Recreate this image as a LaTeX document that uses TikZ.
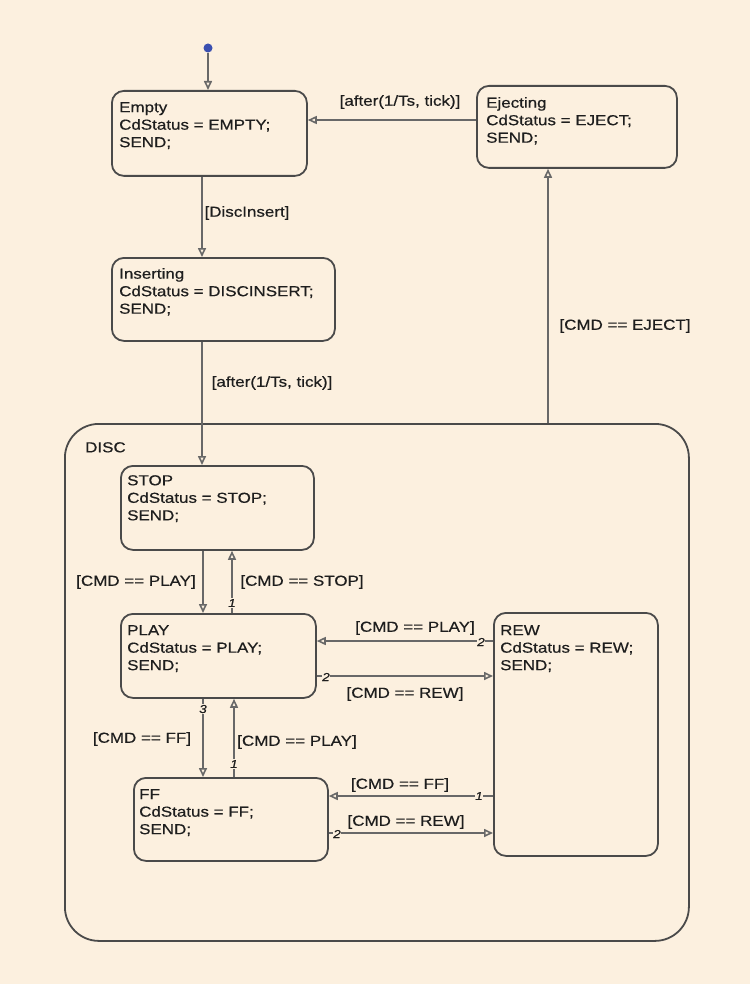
\documentclass[tikz,border=0pt]{standalone}
\usepackage{fontspec}
\setmainfont[FakeStretch=1.17,FakeBold=0.5]{Liberation Sans}
\usetikzlibrary{arrows.meta}
\definecolor{bg}{HTML}{FCF0DF}
\definecolor{ln}{HTML}{4A4A4A}
\definecolor{tr}{HTML}{686868}
\definecolor{tx}{HTML}{1E1E1E}
\definecolor{dotblue}{HTML}{3A4FB0}
\begin{document}
\begin{tikzpicture}[x=1pt,y=-1pt,
  statebox/.style={draw=ln, line width=1.8pt, rounded corners=12pt, anchor=north west, inner sep=0pt},
  txt/.style={anchor=north west, inner sep=0pt, align=left, font=\fontsize{14.5}{17.5}\selectfont, text=tx},
  lbl/.style={font=\fontsize{14.5}{17}\selectfont, text=tx, inner sep=1pt},
  pri/.style={font=\fontsize{11.5}{11.5}\selectfont\itshape, text=tx, fill=bg, inner sep=0.6pt},
  trans/.style={draw=tr, line width=1.6pt, -{Triangle[open, length=9pt, width=8pt]}}]
\fill[bg] (0,0) rectangle (750,984);
\useasboundingbox (0,0) rectangle (750,984);

% DISC superstate
\node[draw=ln, line width=1.8pt, rounded corners=34pt, anchor=north west, inner sep=0pt,
  minimum width=624pt, minimum height=517pt] (disc) at (64,423) {};
\node[txt] (disclbl) at (85,442) {DISC};

% states
\node[statebox, minimum width=195pt, minimum height=85pt] (empty) at (111,90) {};
\node[txt] (emptyt) at (119,102) {Empty\\CdStatus = EMPTY;\\SEND;};

\node[statebox, minimum width=200pt, minimum height=82pt] (eject) at (476,85) {};
\node[txt] (ejectt) at (486,97) {Ejecting\\CdStatus = EJECT;\\SEND;};

\node[statebox, minimum width=223pt, minimum height=83pt] (ins) at (111,257) {};
\node[txt] (inst) at (119,268) {Inserting\\CdStatus = DISCINSERT;\\SEND;};

\node[statebox, minimum width=193pt, minimum height=84pt] (stop) at (120,465) {};
\node[txt] (stopt) at (127,475) {STOP\\CdStatus = STOP;\\SEND;};

\node[statebox, minimum width=195pt, minimum height=84pt] (play) at (120,613) {};
\node[txt] (playt) at (127,625) {PLAY\\CdStatus = PLAY;\\SEND;};

\node[statebox, minimum width=164pt, minimum height=243pt] (rew) at (493,612) {};
\node[txt] (rewt) at (500,625) {REW\\CdStatus = REW;\\SEND;};

\node[statebox, minimum width=194pt, minimum height=83pt] (ff) at (133,777) {};
\node[txt] (fft) at (139,789) {FF\\CdStatus = FF;\\SEND;};

% initial transition
\node[circle, fill=dotblue, inner sep=0pt, minimum size=9pt] (init) at (208,48) {};
\draw[trans] (init) -- (init |- empty.north);

% transitions
\draw[trans] ([yshift=-35pt]eject.north west) -- ([yshift=-30pt]empty.north east);
\draw[trans] ([xshift=91pt]empty.south west) -- ([xshift=91pt]ins.north west);
\draw[trans] ([xshift=91pt]ins.south west) -- ([xshift=82pt]stop.north west);
\draw[trans] ([xshift=484pt]disc.north west) -- ([xshift=72pt]eject.south west);
\draw[trans] ([xshift=83pt]stop.south west) -- ([xshift=83pt]play.north west);
\draw[trans] ([xshift=112pt]play.north west) -- ([xshift=112pt]stop.south west);
\draw[trans] ([yshift=-29pt]rew.north west) -- ([yshift=-28pt]play.north east);
\draw[trans] ([yshift=-63pt]play.north east) -- ([yshift=-64pt]rew.north west);
\draw[trans] ([xshift=83pt]play.south west) -- ([xshift=70pt]ff.north west);
\draw[trans] ([xshift=101pt]ff.north west) -- ([xshift=114pt]play.south west);
\draw[trans] ([yshift=-184pt]rew.north west) -- ([yshift=-19pt]ff.north east);
\draw[trans] ([yshift=-56pt]ff.north east) -- ([yshift=-221pt]rew.north west);

% transition labels
\node[lbl] (l1) at (400,102) {[after(1/Ts, tick)]};
\node[lbl] (l2) at (247,213) {[DiscInsert]};
\node[lbl] (l3) at (272,383) {[after(1/Ts, tick)]};
\node[lbl] (l4) at (625,326) {[CMD == EJECT]};
\node[lbl] (l5) at (136,582) {[CMD == PLAY]};
\node[lbl] (l6) at (302,582) {[CMD == STOP]};
\node[lbl] (l7) at (415,628) {[CMD == PLAY]};
\node[lbl] (l8) at (405,694) {[CMD == REW]};
\node[lbl] (l9) at (142,739) {[CMD == FF]};
\node[lbl] (l10) at (297,742) {[CMD == PLAY]};
\node[lbl] (l11) at (400,785) {[CMD == FF]};
\node[lbl] (l12) at (406,822) {[CMD == REW]};

% priorities
\node[pri] (p1) at (232,603) {1};
\node[pri] (p2) at (481,642) {2};
\node[pri] (p3) at (326,677) {2};
\node[pri] (p4) at (203,709) {3};
\node[pri] (p5) at (234,764) {1};
\node[pri] (p6) at (479,796) {1};
\node[pri] (p7) at (337,834) {2};
\end{tikzpicture}
\end{document}
